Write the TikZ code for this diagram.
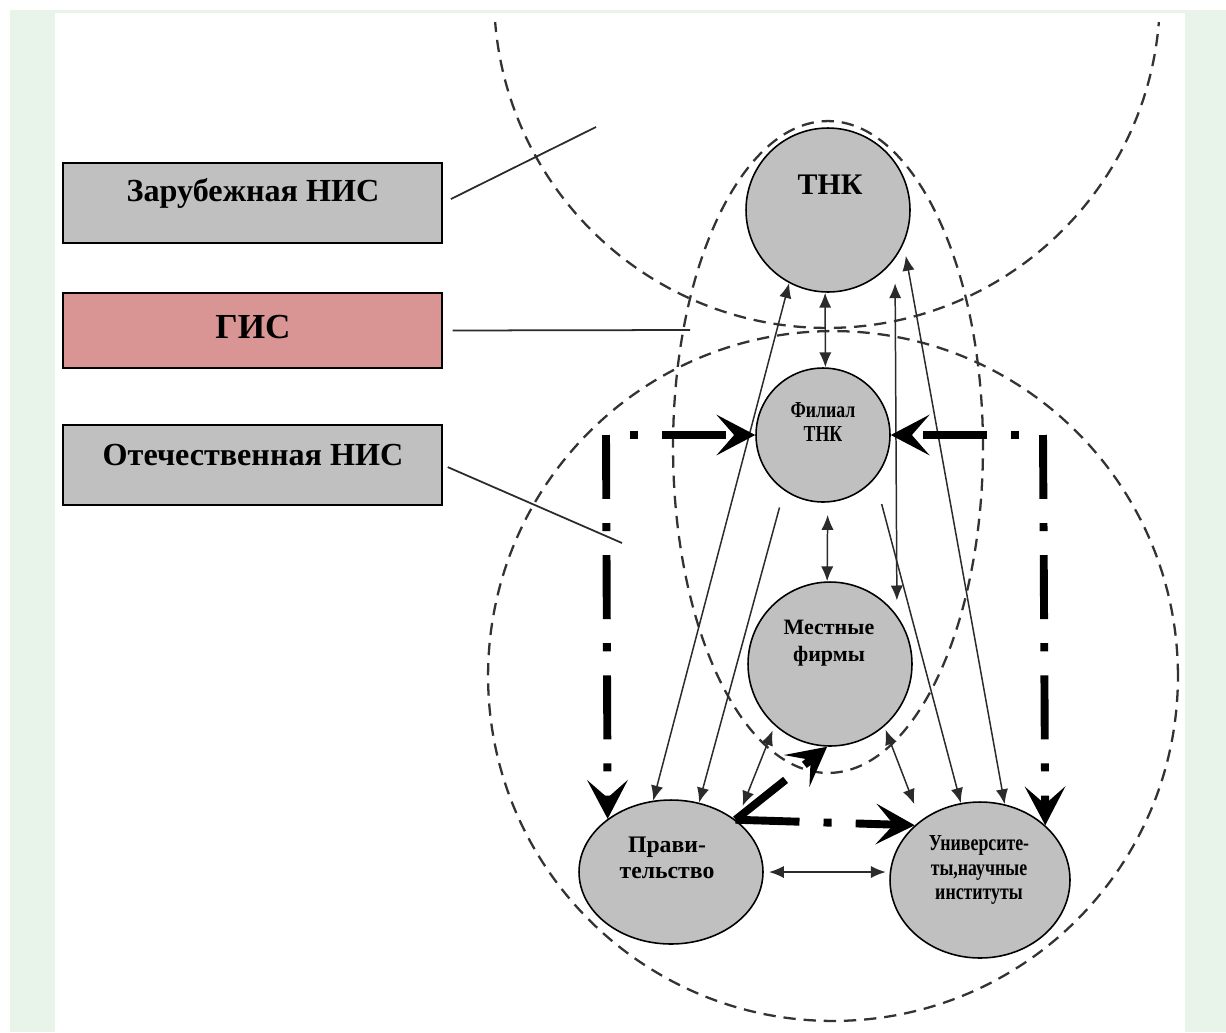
\documentclass[tikz,border=0pt]{standalone}
\usepackage{fontspec}
\setmainfont{Liberation Serif}
\newfontfamily\narrowfont{Liberation Serif}[FakeStretch=0.78]
\usepackage{tikz}
\usetikzlibrary{arrows.meta}
\usetikzlibrary{shapes.geometric}
\usetikzlibrary{positioning}
\usepackage{xcolor}

\definecolor{panelgreen}{HTML}{E8F3EA}
\definecolor{boxgray}{HTML}{C0C0C0}
\definecolor{gisred}{HTML}{D99594}
\definecolor{linegray}{HTML}{2B2B2B}
\definecolor{ringgray}{HTML}{333333}

\begin{document}
\begin{tikzpicture}[x=0.02cm,y=-0.02cm,
  box/.style={draw,line width=1.1pt,fill=boxgray,minimum width=7.58cm,minimum height=1.6cm,inner sep=0pt},
  org/.style={draw,line width=0.9pt,fill=boxgray,circle,inner sep=0pt},
  oval/.style={draw,line width=0.9pt,fill=boxgray,ellipse,inner sep=0pt},
  big/.style={font=\bfseries\fontsize{18.3}{22}\selectfont,inner sep=0pt},
  small/.style={font=\bfseries\fontsize{12.5}{15.4}\selectfont,align=center,inner sep=0pt},
  narrow/.style={font=\narrowfont\bfseries\fontsize{13}{14}\selectfont,align=center,inner sep=0pt},
  ring/.style={draw=ringgray,line width=1.3pt,dash pattern=on 7pt off 4.5pt},
  lead/.style={draw=linegray,line width=1pt},
  link/.style={draw=linegray,line width=0.85pt,{Latex[length=8.5pt,width=7pt]}-{Latex[length=8.5pt,width=7pt]}},
  linkto/.style={draw=linegray,line width=0.85pt,-{Latex[length=8.5pt,width=7pt]}},
  flow/.style={line width=4.5pt,-{Stealth[length=22pt,width=23pt,inset=10pt]},
    dash pattern=on 36.4pt off 13.7pt on 4.6pt off 13.7pt}]

  \useasboundingbox (0,0) rectangle (1226,1032);
  \fill[panelgreen] (10,10) rectangle (1226,1032);
  \fill[white] (55,13) rectangle (1185,1032);

  % systems
  \begin{scope}
    \clip (55,22) rectangle (1185,1032);
    \draw[ring] (827,-5) circle[radius=6.66cm];
  \end{scope}
  \draw[ring] (833,676) circle[radius=6.9cm];
  \draw[ring] (828,447) ellipse[x radius=3.1cm,y radius=6.52cm];

  % legend boxes
  \node[box] (zar) at (252.5,203) {};
  \node[big] (zart) at (253,193) {Зарубежная НИС};
  \node[box,fill=gisred,minimum height=1.5cm] (gis) at (252.5,330.5) {};
  \node[big,font=\bfseries\fontsize{20}{24}\selectfont] (gist) at (253,327) {ГИС};
  \node[box] (otech) at (252.5,465) {};
  \node[big] (otecht) at (253,455) {Отечественная НИС};

  \coordinate (zarend) at (596,127);
  \coordinate (gisend) at (690,330);
  \coordinate (otechend) at (622,543);
  \draw[lead,shorten <=5pt] (zar.east) -- (zarend);
  \draw[lead,shorten <=5.5pt] (gis.east) -- (gisend);
  \draw[lead,shorten <=3pt] (otech.east) -- (otechend);

  % actors
  \node[org,minimum size=3.28cm] (tnk) at (828,210) {};
  \node[big,font=\bfseries\fontsize{17}{20}\selectfont] (tnkt) at (830,185) {ТНК};
  \node[org,minimum size=2.68cm] (fil) at (823,435) {};
  \node[narrow] (filt) at (823,422) {Филиал\\ТНК};
  \node[org,minimum size=3.28cm] (mest) at (830,664) {};
  \node[small] (mestt) at (829,643) {Местные\\фирмы};
  \node[oval,minimum width=3.68cm,minimum height=2.88cm] (prav) at (671,872) {};
  \node[small,font=\bfseries\fontsize{13.5}{14.5}\selectfont] (pravt) at (667,858) {Прави-\\тельство};
  \node[oval,minimum width=3.6cm,minimum height=3.12cm] (univ) at (980,880) {};
  \node[narrow] (univt) at (979,870) {Университе-\\ты,научные\\институты};

  % thin links
  \draw[link] (tnk.-92) -- (fil.88);
  \draw[link,shorten <=7pt] (fil.-86) -- (mest.92);
  \draw[link] (tnk.-118) -- (prav.104);
  \draw[linkto,shorten <=10pt] (fil.-125) -- (prav.68);
  \draw[linkto,shorten <=15pt] (fil.-40) -- (univ.104);
  \draw[link,shorten <=7pt] (tnk.-24) -- (univ.72);
  \draw[link,shorten <=14pt,shorten >=8.5pt] (tnk.-36) -- (mest.36);
  \draw[link,shorten <=3pt,shorten >=9pt] (mest.-132) -- (prav.38);
  \draw[link,shorten <=2pt,shorten >=10pt] (mest.-49) -- (univ.135);
  \draw[link,shorten <=3pt,shorten >=2pt] (prav.east) -- (prav.east -| univ.west);

  % thick flows
  \coordinate (lc) at (606,435);
  \coordinate (rc) at (1043,435);
  \draw[flow,dash phase=36.4pt] (lc) -- (fil.west);
  \draw[flow] (lc) -- (prav.140);
  \draw[flow,dash phase=36.4pt] (rc) -- (fil.east);
  \draw[flow] (rc) -- (univ.40);
  \draw[flow] (prav.39) -- (mest.-92);
  \draw[flow] (prav.39) -- (univ.140);

\end{tikzpicture}
\end{document}
